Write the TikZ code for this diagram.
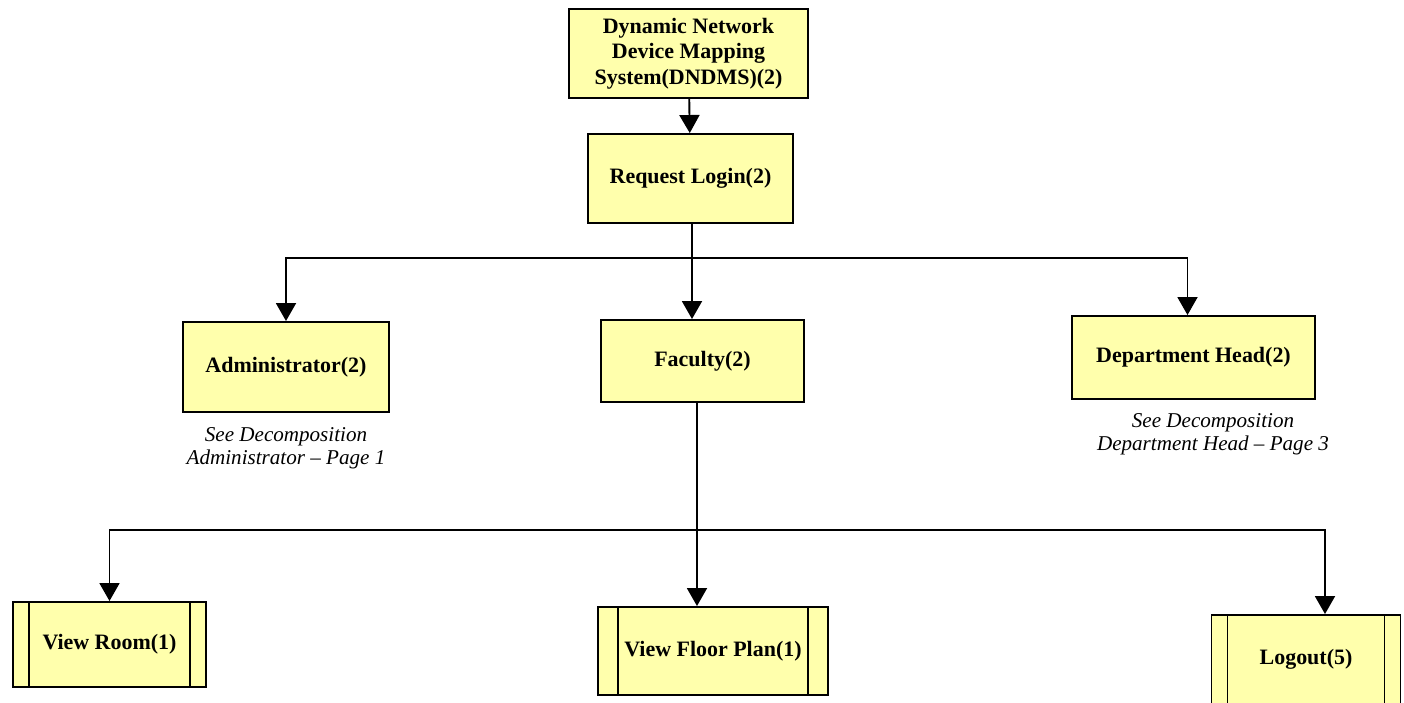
\documentclass[tikz,border=0pt]{standalone}
\usepackage{fontspec}
\setmainfont{Liberation Serif}
\usetikzlibrary{arrows.meta}

\definecolor{boxyellow}{RGB}{255,255,172}

\begin{document}
\begin{tikzpicture}[
    box/.style={draw, line width=1.1pt, fill=boxyellow, align=center,
                font=\fontsize{12.5}{14.5}\selectfont\bfseries, inner sep=0pt},
    module/.style={box, path picture={
        \draw[line width=1.1pt] ([xshift=#1]path picture bounding box.north west)
            -- ([xshift=#1]path picture bounding box.south west);
        \draw[line width=1.1pt] ([xshift=-#1]path picture bounding box.north east)
            -- ([xshift=-#1]path picture bounding box.south east);}},
    module/.default=0.32cm,
    note/.style={align=center, font=\fontsize{12}{13.2}\selectfont\itshape},
    link/.style={line width=1.1pt},
    arr/.style={link, -{Triangle[length=0.36cm,width=0.4cm]}}
  ]
    \useasboundingbox (0,0) rectangle (28.08,14.06);
    \clip (0,0) rectangle (28.08,14.06);

    \node[box, minimum width=4.78cm, minimum height=1.78cm] at (13.77,12.99) (dndms)
        {Dynamic Network\\Device Mapping\\System(DNDMS)(2)};
    \node[box, minimum width=4.1cm, minimum height=1.78cm] at (13.81,10.49) (login)
        {Request Login(2)};

    \node[box, minimum width=4.12cm, minimum height=1.8cm] at (5.72,6.72) (admin)
        {Administrator(2)};
    \node[box, minimum width=4.06cm, minimum height=1.64cm] at (14.05,6.84) (faculty)
        {Faculty(2)};
    \node[box, minimum width=4.86cm, minimum height=1.66cm] at (23.87,6.91) (depthead)
        {Department Head(2)};

    \node[note] at (5.72,5.09) (adminnote)
        {See Decomposition\\Administrator -- Page 1};
    \node[note] at (24.26,5.37) (deptnote)
        {See Decomposition\\Department Head -- Page 3};

    \node[module, minimum width=3.86cm, minimum height=1.7cm] at (2.19,1.17) (viewroom)
        {View Room(1)};
    \node[module=0.4cm, minimum width=4.6cm, minimum height=1.76cm] at (14.26,1.04) (floorplan)
        {View Floor Plan(1)};
    \node[module, minimum width=3.78cm, minimum height=1.78cm] at (26.12,0.87) (logout)
        {Logout(5)};

    % login branches
    \coordinate (bus1) at (13.84,8.9);
    \coordinate (bus2) at (13.94,3.46);

    \draw[arr] (dndms) -- (login);
    \draw[link] (login.south -| bus1) -- (bus1);
    \draw[arr] (bus1) -| (admin.north);
    \draw[arr] (bus1) -- (bus1 |- faculty.north);
    \draw[arr] (bus1) -| ([xshift=-0.12cm]depthead.north);

    % faculty branches
    \draw[link] (faculty.south -| bus2) -- (bus2);
    \draw[arr] (bus2) -| (viewroom.north);
    \draw[arr] (bus2) -- (bus2 |- floorplan.north);
    \draw[arr] (bus2) -| ([xshift=0.38cm]logout.north);
\end{tikzpicture}
\end{document}
